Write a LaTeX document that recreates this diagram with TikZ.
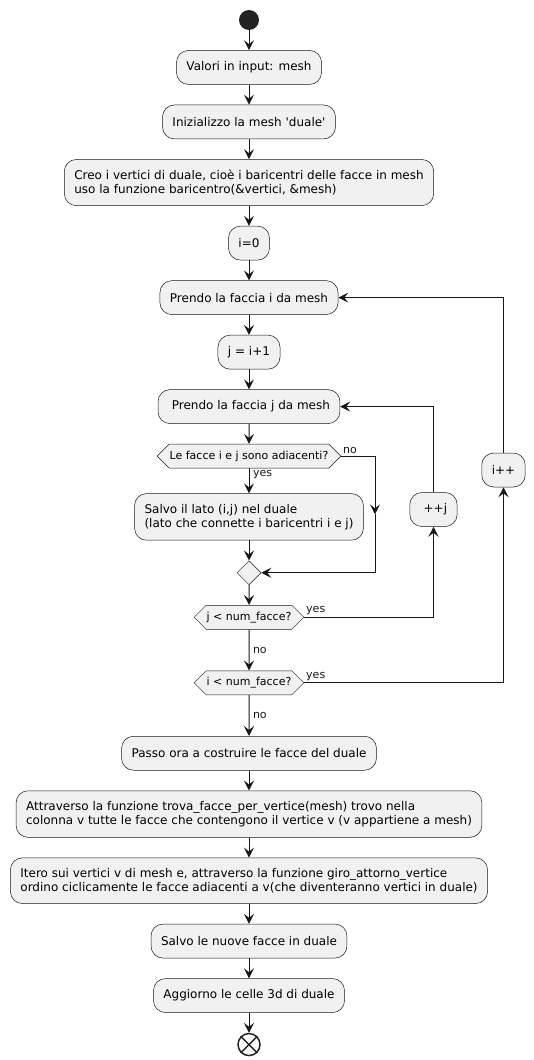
\documentclass[tikz,border=0pt]{standalone}
\usepackage{fontspec}
\setmainfont{DejaVu Sans}
\usetikzlibrary{shapes.geometric, shapes.symbols, arrows.meta, positioning, calc}
\definecolor{pumlfill}{HTML}{F1F1F1}
\definecolor{pumlline}{HTML}{181818}
\definecolor{pumldot}{HTML}{222222}
\tikzset{
  >=Stealth,
  flowarrow/.style={-{Stealth[length=10pt, width=10pt, inset=4pt]}, line width=1pt, pumlline},
  actbox/.style={draw=pumlline, line width=0.5pt, fill=pumlfill, rounded corners=12pt, align=left, inner xsep=10pt, inner ysep=10.5pt, minimum height=34pt, font=\fontsize{12}{14}\selectfont},
  choicebox/.style={signal, signal to=west and east, draw=pumlline, line width=0.5pt, fill=pumlfill, inner xsep=0.5pt, inner ysep=0pt, minimum height=24pt, font=\fontsize{11}{13}\selectfont},
  mergebox/.style={diamond, draw=pumlline, line width=0.5pt, fill=pumlfill, inner sep=0pt, minimum size=24pt},
  flowlabel/.style={font=\fontsize{11}{13}\selectfont, text=pumlline, inner sep=1.5pt},
  startdot/.style={circle, fill=pumldot, inner sep=0pt, minimum size=20pt},
  stopdot/.style={circle, draw=pumldot, line width=1.5pt, inner sep=0pt, minimum size=22pt}
}

\begin{document}
\begin{tikzpicture}[x=1pt, y=-1pt, node distance=20pt]
    \useasboundingbox (0,0) rectangle (534,1060);
    \node[startdot] (start) at (249,20) {};
    \node[actbox, below=of start] (input) {Valori in input: mesh};
    \node[actbox, below=of input] (init) {Inizializzo la mesh \textquotesingle duale\textquotesingle};
    \node[actbox, below=of init] (vert) {Creo i vertici di duale, cioè i baricentri delle facce in mesh\\uso la funzione baricentro(\&vertici, \&mesh)};
    \node[actbox, below=of vert] (izero) {i=0};
    \node[actbox, below=of izero] (facei) {Prendo la faccia i da mesh};
    \node[actbox, below=of facei] (jset) {j = i+1};
    \node[actbox, below=of jset] (facej) {\ Prendo la faccia j da mesh};
    \node[choicebox, below=of facej] (adj) {Le facce i e j sono adiacenti?};
    \node[actbox, below=25pt of adj] (edge) {Salvo il lato (i,j) nel duale\\(lato che connette i baricentri i e j)};
    \node[mergebox, below=of edge] (merge) {};
    \node[choicebox, below=of merge] (jless) {j < num\_facce?};
    \node[choicebox, below=41pt of jless] (iless) {i < num\_facce?};
    \node[actbox, below=41pt of iless] (passo) {Passo ora a costruire le facce del duale};
    \node[actbox, below=of passo] (trova) {Attraverso la funzione trova\_facce\_per\_vertice(mesh) trovo nella\\colonna v tutte le facce che contengono il vertice v (v appartiene a mesh)};
    \node[actbox, below=of trova] (giro) {Itero sui vertici v di mesh e, attraverso la funzione giro\_attorno\_vertice\\ordino ciclicamente le facce adiacenti a v(che diventeranno vertici in duale)};
    \node[actbox, below=of giro] (salva) {Salvo le nuove facce in duale};
    \node[actbox, below=of salva] (celle) {Aggiorno le celle 3d di duale};
    \node[stopdot, below=of celle] (stop) {};
    \draw[line width=1.5pt, pumldot] (stop.45) -- (stop.225) (stop.135) -- (stop.315);

    % loop counters on the right
    \node[actbox] (incj) at (433.5,509.5) {\ ++j};
    \node[actbox] (inci) at (503.5,470) {i++};

    \draw[flowarrow] (start) -- (input);
    \draw[flowarrow] (input) -- (init);
    \draw[flowarrow] (init) -- (vert);
    \draw[flowarrow] (vert) -- (izero);
    \draw[flowarrow] (izero) -- (facei);
    \draw[flowarrow] (facei) -- (jset);
    \draw[flowarrow] (jset) -- (facej);
    \draw[flowarrow] (facej) -- (adj);
    \draw[flowarrow] (adj.south) -- node[flowlabel, pos=0, anchor=north west, xshift=2pt] {yes} (edge.north);

    % "no" branch of the adjacency test
    \coordinate (nocol) at (375,0);
    \coordinate (nomid) at ($(adj.east -| nocol)!0.5!(merge.east -| nocol)$);
    \draw[flowarrow] (adj.east) -| node[flowlabel, pos=0, anchor=south west] {no} (nomid);
    \draw[flowarrow] (nomid) |- (merge.east);

    \draw[flowarrow] (edge) -- (merge);
    \draw[flowarrow] (merge) -- (jless);
    \draw[flowarrow] (jless.east) -| node[flowlabel, pos=0, anchor=south west] {yes} (incj.south);
    \draw[flowarrow] (incj.north) |- (facej.east);
    \draw[flowarrow] (jless) -- node[flowlabel, right, xshift=2pt] {no} (iless);
    \draw[flowarrow] (iless.east) -| node[flowlabel, pos=0, anchor=south west] {yes} (inci.south);
    \draw[flowarrow] (inci.north) |- (facei.east);
    \draw[flowarrow] (iless) -- node[flowlabel, right, xshift=2pt] {no} (passo);

    \draw[flowarrow] (passo) -- (trova);
    \draw[flowarrow] (trova) -- (giro);
    \draw[flowarrow] (giro) -- (salva);
    \draw[flowarrow] (salva) -- (celle);
    \draw[flowarrow] (celle) -- (stop);
\end{tikzpicture}
\end{document}
